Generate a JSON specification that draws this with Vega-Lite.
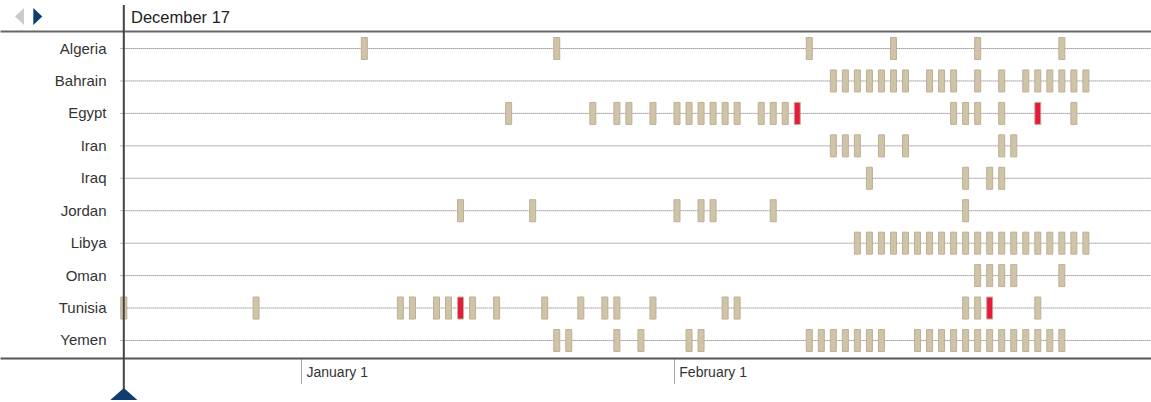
{
  "$schema": "https://vega.github.io/schema/vega-lite/v6.json",
  "width": 1151,
  "height": 327,
  "autosize": {"type": "none"},
  "padding": {"left": 0, "top": 31, "right": 0, "bottom": 44},
  "background": "white",
  "config": {"view": {"stroke": null}, "font": "Liberation Sans"},
  "title": {"text": "December 17", "anchor": "start", "frame": "group", "dx": 131, "dy": 44, "offset": 9, "fontSize": 16.5, "font": "Liberation Sans", "fontWeight": "normal", "color": "#222", "baseline": "alphabetic"},
  "datasets": {
    "events": [
      {"country": "Algeria", "date": "2011-01-06", "kind": "event"},
      {"country": "Algeria", "date": "2011-01-22", "kind": "event"},
      {"country": "Algeria", "date": "2011-02-12", "kind": "event"},
      {"country": "Algeria", "date": "2011-02-19", "kind": "event"},
      {"country": "Algeria", "date": "2011-02-26", "kind": "event"},
      {"country": "Algeria", "date": "2011-03-05", "kind": "event"},
      {"country": "Bahrain", "date": "2011-02-14", "kind": "event"},
      {"country": "Bahrain", "date": "2011-02-15", "kind": "event"},
      {"country": "Bahrain", "date": "2011-02-16", "kind": "event"},
      {"country": "Bahrain", "date": "2011-02-17", "kind": "event"},
      {"country": "Bahrain", "date": "2011-02-18", "kind": "event"},
      {"country": "Bahrain", "date": "2011-02-19", "kind": "event"},
      {"country": "Bahrain", "date": "2011-02-20", "kind": "event"},
      {"country": "Bahrain", "date": "2011-02-22", "kind": "event"},
      {"country": "Bahrain", "date": "2011-02-23", "kind": "event"},
      {"country": "Bahrain", "date": "2011-02-24", "kind": "event"},
      {"country": "Bahrain", "date": "2011-02-26", "kind": "event"},
      {"country": "Bahrain", "date": "2011-02-28", "kind": "event"},
      {"country": "Bahrain", "date": "2011-03-02", "kind": "event"},
      {"country": "Bahrain", "date": "2011-03-03", "kind": "event"},
      {"country": "Bahrain", "date": "2011-03-04", "kind": "event"},
      {"country": "Bahrain", "date": "2011-03-05", "kind": "event"},
      {"country": "Bahrain", "date": "2011-03-06", "kind": "event"},
      {"country": "Bahrain", "date": "2011-03-07", "kind": "event"},
      {"country": "Egypt", "date": "2011-01-18", "kind": "event"},
      {"country": "Egypt", "date": "2011-01-25", "kind": "event"},
      {"country": "Egypt", "date": "2011-01-27", "kind": "event"},
      {"country": "Egypt", "date": "2011-01-28", "kind": "event"},
      {"country": "Egypt", "date": "2011-01-30", "kind": "event"},
      {"country": "Egypt", "date": "2011-02-01", "kind": "event"},
      {"country": "Egypt", "date": "2011-02-02", "kind": "event"},
      {"country": "Egypt", "date": "2011-02-03", "kind": "event"},
      {"country": "Egypt", "date": "2011-02-04", "kind": "event"},
      {"country": "Egypt", "date": "2011-02-05", "kind": "event"},
      {"country": "Egypt", "date": "2011-02-06", "kind": "event"},
      {"country": "Egypt", "date": "2011-02-08", "kind": "event"},
      {"country": "Egypt", "date": "2011-02-09", "kind": "event"},
      {"country": "Egypt", "date": "2011-02-10", "kind": "event"},
      {"country": "Egypt", "date": "2011-02-11", "kind": "leader resigned"},
      {"country": "Egypt", "date": "2011-02-24", "kind": "event"},
      {"country": "Egypt", "date": "2011-02-25", "kind": "event"},
      {"country": "Egypt", "date": "2011-02-26", "kind": "event"},
      {"country": "Egypt", "date": "2011-02-28", "kind": "event"},
      {"country": "Egypt", "date": "2011-03-03", "kind": "leader resigned"},
      {"country": "Egypt", "date": "2011-03-06", "kind": "event"},
      {"country": "Iran", "date": "2011-02-14", "kind": "event"},
      {"country": "Iran", "date": "2011-02-15", "kind": "event"},
      {"country": "Iran", "date": "2011-02-16", "kind": "event"},
      {"country": "Iran", "date": "2011-02-18", "kind": "event"},
      {"country": "Iran", "date": "2011-02-20", "kind": "event"},
      {"country": "Iran", "date": "2011-02-28", "kind": "event"},
      {"country": "Iran", "date": "2011-03-01", "kind": "event"},
      {"country": "Iraq", "date": "2011-02-17", "kind": "event"},
      {"country": "Iraq", "date": "2011-02-25", "kind": "event"},
      {"country": "Iraq", "date": "2011-02-27", "kind": "event"},
      {"country": "Iraq", "date": "2011-02-28", "kind": "event"},
      {"country": "Jordan", "date": "2011-01-14", "kind": "event"},
      {"country": "Jordan", "date": "2011-01-20", "kind": "event"},
      {"country": "Jordan", "date": "2011-02-01", "kind": "event"},
      {"country": "Jordan", "date": "2011-02-03", "kind": "event"},
      {"country": "Jordan", "date": "2011-02-04", "kind": "event"},
      {"country": "Jordan", "date": "2011-02-09", "kind": "event"},
      {"country": "Jordan", "date": "2011-02-25", "kind": "event"},
      {"country": "Libya", "date": "2011-02-16", "kind": "event"},
      {"country": "Libya", "date": "2011-02-17", "kind": "event"},
      {"country": "Libya", "date": "2011-02-18", "kind": "event"},
      {"country": "Libya", "date": "2011-02-19", "kind": "event"},
      {"country": "Libya", "date": "2011-02-20", "kind": "event"},
      {"country": "Libya", "date": "2011-02-21", "kind": "event"},
      {"country": "Libya", "date": "2011-02-22", "kind": "event"},
      {"country": "Libya", "date": "2011-02-23", "kind": "event"},
      {"country": "Libya", "date": "2011-02-24", "kind": "event"},
      {"country": "Libya", "date": "2011-02-25", "kind": "event"},
      {"country": "Libya", "date": "2011-02-26", "kind": "event"},
      {"country": "Libya", "date": "2011-02-27", "kind": "event"},
      {"country": "Libya", "date": "2011-02-28", "kind": "event"},
      {"country": "Libya", "date": "2011-03-01", "kind": "event"},
      {"country": "Libya", "date": "2011-03-02", "kind": "event"},
      {"country": "Libya", "date": "2011-03-03", "kind": "event"},
      {"country": "Libya", "date": "2011-03-04", "kind": "event"},
      {"country": "Libya", "date": "2011-03-05", "kind": "event"},
      {"country": "Libya", "date": "2011-03-06", "kind": "event"},
      {"country": "Libya", "date": "2011-03-07", "kind": "event"},
      {"country": "Oman", "date": "2011-02-26", "kind": "event"},
      {"country": "Oman", "date": "2011-02-27", "kind": "event"},
      {"country": "Oman", "date": "2011-02-28", "kind": "event"},
      {"country": "Oman", "date": "2011-03-01", "kind": "event"},
      {"country": "Oman", "date": "2011-03-05", "kind": "event"},
      {"country": "Tunisia", "date": "2010-12-17", "kind": "event"},
      {"country": "Tunisia", "date": "2010-12-28", "kind": "event"},
      {"country": "Tunisia", "date": "2011-01-09", "kind": "event"},
      {"country": "Tunisia", "date": "2011-01-10", "kind": "event"},
      {"country": "Tunisia", "date": "2011-01-12", "kind": "event"},
      {"country": "Tunisia", "date": "2011-01-13", "kind": "event"},
      {"country": "Tunisia", "date": "2011-01-14", "kind": "leader resigned"},
      {"country": "Tunisia", "date": "2011-01-15", "kind": "event"},
      {"country": "Tunisia", "date": "2011-01-17", "kind": "event"},
      {"country": "Tunisia", "date": "2011-01-21", "kind": "event"},
      {"country": "Tunisia", "date": "2011-01-24", "kind": "event"},
      {"country": "Tunisia", "date": "2011-01-26", "kind": "event"},
      {"country": "Tunisia", "date": "2011-01-27", "kind": "event"},
      {"country": "Tunisia", "date": "2011-01-30", "kind": "event"},
      {"country": "Tunisia", "date": "2011-02-05", "kind": "event"},
      {"country": "Tunisia", "date": "2011-02-06", "kind": "event"},
      {"country": "Tunisia", "date": "2011-02-25", "kind": "event"},
      {"country": "Tunisia", "date": "2011-02-26", "kind": "event"},
      {"country": "Tunisia", "date": "2011-02-27", "kind": "leader resigned"},
      {"country": "Tunisia", "date": "2011-03-03", "kind": "event"},
      {"country": "Yemen", "date": "2011-01-22", "kind": "event"},
      {"country": "Yemen", "date": "2011-01-23", "kind": "event"},
      {"country": "Yemen", "date": "2011-01-27", "kind": "event"},
      {"country": "Yemen", "date": "2011-01-29", "kind": "event"},
      {"country": "Yemen", "date": "2011-02-02", "kind": "event"},
      {"country": "Yemen", "date": "2011-02-03", "kind": "event"},
      {"country": "Yemen", "date": "2011-02-12", "kind": "event"},
      {"country": "Yemen", "date": "2011-02-13", "kind": "event"},
      {"country": "Yemen", "date": "2011-02-14", "kind": "event"},
      {"country": "Yemen", "date": "2011-02-15", "kind": "event"},
      {"country": "Yemen", "date": "2011-02-16", "kind": "event"},
      {"country": "Yemen", "date": "2011-02-17", "kind": "event"},
      {"country": "Yemen", "date": "2011-02-18", "kind": "event"},
      {"country": "Yemen", "date": "2011-02-21", "kind": "event"},
      {"country": "Yemen", "date": "2011-02-22", "kind": "event"},
      {"country": "Yemen", "date": "2011-02-23", "kind": "event"},
      {"country": "Yemen", "date": "2011-02-24", "kind": "event"},
      {"country": "Yemen", "date": "2011-02-25", "kind": "event"},
      {"country": "Yemen", "date": "2011-02-26", "kind": "event"},
      {"country": "Yemen", "date": "2011-02-27", "kind": "event"},
      {"country": "Yemen", "date": "2011-02-28", "kind": "event"},
      {"country": "Yemen", "date": "2011-03-01", "kind": "event"},
      {"country": "Yemen", "date": "2011-03-02", "kind": "event"},
      {"country": "Yemen", "date": "2011-03-03", "kind": "event"},
      {"country": "Yemen", "date": "2011-03-04", "kind": "event"},
      {"country": "Yemen", "date": "2011-03-05", "kind": "event"}
    ],
    "marker": [{"date": "2010-12-17"}]
  },
  "layer": [
    {
      "data": {"name": "events"},
      "transform": [{"aggregate": [], "groupby": ["country"]}],
      "mark": {"type": "rule", "color": "#6a6a6a", "strokeWidth": 1, "strokeDash": [1, 1]},
      "encoding": {
        "y": {"field": "country", "type": "nominal", "sort": "ascending",
              "scale": {"type": "band", "paddingInner": 0, "paddingOuter": 0.04},
              "axis": {"orient": "left", "offset": -108, "domain": false, "ticks": false, "grid": false, "title": null,
                       "labelFont": "Liberation Sans", "labelFontSize": 15, "labelColor": "#333", "labelPadding": 2, "labelBaseline": "middle"}},
        "x": {"datum": {"year": 2010, "month": 12, "date": 17, "utc": true}, "type": "temporal",
              "scale": {"type": "utc", "domain": [{"year": 2010, "month": 12, "date": 6, "hours": 23, "minutes": 18, "utc": true}, {"year": 2011, "month": 3, "date": 12, "hours": 16, "minutes": 19, "utc": true}]},
              "axis": {"orient": "top", "labels": false, "ticks": false, "grid": false, "title": null, "domain": true, "domainColor": "#666", "domainWidth": 2}},
        "x2": {"datum": {"year": 2011, "month": 3, "date": 12, "hours": 16, "minutes": 19, "utc": true}}
      }
    },
    {
      "data": {"name": "events"},
      "mark": {"type": "tick", "thickness": 6, "size": 22, "stroke": "#bcb095", "strokeWidth": 1, "xOffset": 3.2, "opacity": 1},
      "encoding": {
        "y": {"field": "country", "type": "nominal", "sort": "ascending",
              "scale": {"type": "band", "paddingInner": 0, "paddingOuter": 0.04},
              "axis": {"orient": "left", "offset": -108, "domain": false, "ticks": false, "grid": false, "title": null,
                       "labelFont": "Liberation Sans", "labelFontSize": 15, "labelColor": "#333", "labelPadding": 2, "labelBaseline": "middle"}},
        "x": {"field": "date", "type": "temporal",
              "scale": {"type": "utc", "domain": [{"year": 2010, "month": 12, "date": 6, "hours": 23, "minutes": 18, "utc": true}, {"year": 2011, "month": 3, "date": 12, "hours": 16, "minutes": 19, "utc": true}]},
              "axis": {"orient": "bottom", "values": [{"year": 2011, "month": 1, "date": 1, "utc": true}, {"year": 2011, "month": 2, "date": 1, "utc": true}],
                       "format": "%B %-d", "grid": false, "title": null, "domain": true, "domainColor": "#555", "domainWidth": 2,
                       "ticks": true, "tickSize": 25, "tickDash": [1, 1], "tickColor": "#555", "tickWidth": 1,
                       "labelAlign": "left", "labelBaseline": "middle", "labelOffset": 5, "labelPadding": -11,
                       "labelFont": "Liberation Sans", "labelFontSize": 14, "labelColor": "#333", "labelFlush": false}},
        "color": {"field": "kind", "type": "nominal", "scale": {"domain": ["event", "leader resigned"], "range": ["#cfc3a8", "#e8193c"]}, "legend": null}
      }
    },
    {
      "data": {"name": "marker"},
      "mark": {"type": "rule", "color": "#444", "strokeWidth": 2, "xOffset": 3.2},
      "encoding": {
        "x": {"field": "date", "type": "temporal", "axis": null,
              "scale": {"type": "utc", "domain": [{"year": 2010, "month": 12, "date": 6, "hours": 23, "minutes": 18, "utc": true}, {"year": 2011, "month": 3, "date": 12, "hours": 16, "minutes": 19, "utc": true}]}},
        "y": {"value": -26},
        "y2": {"value": 358}
      }
    },
    {
      "data": {"name": "marker"},
      "mark": {"type": "point", "shape": "M-1,0.44L1,0.44L0,-0.44Z", "size": 729, "filled": true, "color": "#0f3d70", "opacity": 1, "xOffset": 3.2},
      "encoding": {
        "x": {"field": "date", "type": "temporal", "axis": null,
              "scale": {"type": "utc", "domain": [{"year": 2010, "month": 12, "date": 6, "hours": 23, "minutes": 18, "utc": true}, {"year": 2011, "month": 3, "date": 12, "hours": 16, "minutes": 19, "utc": true}]}},
        "y": {"value": 363}
      }
    },
    {
      "data": {"values": [{"control": "previous"}]},
      "mark": {"type": "point", "shape": "M0.53,-1L0.53,1L-0.53,0Z", "size": 289, "filled": true, "color": "#cbcbcb", "opacity": 1},
      "encoding": {"x": {"value": 19.5}, "y": {"value": -14.5}}
    },
    {
      "data": {"values": [{"control": "next"}]},
      "mark": {"type": "point", "shape": "M-0.53,-1L-0.53,1L0.53,0Z", "size": 289, "filled": true, "color": "#0f3d70", "opacity": 1},
      "encoding": {"x": {"value": 37.8}, "y": {"value": -14.5}}
    }
  ],
  "resolve": {"axis": {"x": "independent"}}
}
